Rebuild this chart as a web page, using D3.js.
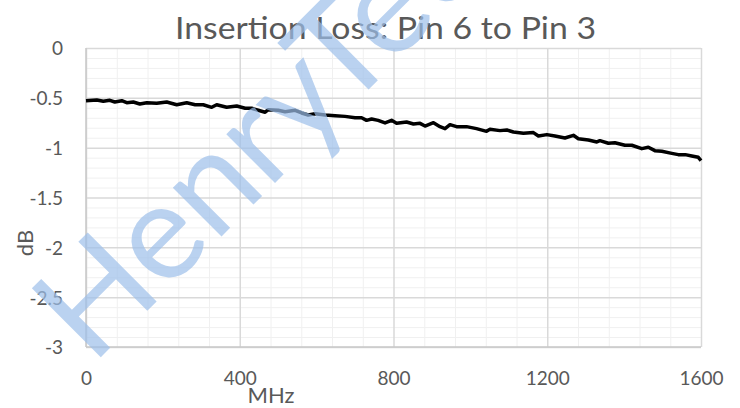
<!DOCTYPE html>
<html><head><meta charset="utf-8">
<script src="https://cdn.jsdelivr.net/npm/d3@7"></script>
<style>body{margin:0;background:#fff} svg{display:block}</style>
</head><body>
<svg id="chart" width="740" height="408"></svg>
<script>
const titleText = "Insertion Loss: Pin 6 to Pin 3";
const xLabel = "MHz";
const yLabel = "dB";
const xTicks = [0, 400, 800, 1200, 1600];
const yTicks = [0, -0.5, -1, -1.5, -2, -2.5, -3];
const xMinorStep = 80;
const yMinorStep = 0.1;
const watermarkText = "HenryTech";

const freqMHz = [0,28,45,62,75,93,106,123,140,158,184,210,236,262,284,305,327,340,366,392,
  414,431,448,466,474,500,518,544,561,578,596,622,648,674,700,717,730,743,760,778,795,
  808,834,852,869,882,904,921,934,947,964,990,1016,1042,1051,1077,1095,1112,1138,1164,1177,1199,
  1220,1246,1268,1281,1307,1329,1337,1359,1376,1402,1420,1446,1463,1480,1498,1524,1541,1559,1576,1593,1600];
const lossDb = [-0.53,-0.522,-0.535,-0.525,-0.542,-0.529,-0.549,-0.542,-0.562,-0.549,-0.555,-0.542,-0.569,-0.549,-0.569,-0.569,-0.595,-0.569,-0.595,-0.582,
  -0.605,-0.605,-0.625,-0.645,-0.619,-0.625,-0.639,-0.625,-0.652,-0.672,-0.659,-0.672,-0.679,-0.686,-0.699,-0.699,-0.726,-0.712,-0.726,-0.752,-0.726,
  -0.756,-0.742,-0.762,-0.756,-0.783,-0.749,-0.789,-0.809,-0.769,-0.789,-0.789,-0.809,-0.836,-0.816,-0.829,-0.823,-0.843,-0.856,-0.849,-0.883,-0.869,
  -0.883,-0.903,-0.876,-0.910,-0.923,-0.943,-0.930,-0.956,-0.950,-0.976,-0.976,-1.010,-0.996,-1.030,-1.036,-1.057,-1.070,-1.070,-1.084,-1.097,-1.13];

const W = 740, H = 408;
const margin = {left: 86, right: 39, top: 48, bottom: 61};
const FONT = "Lato, 'Open Sans', sans-serif";
const svg = d3.select("#chart");
svg.append("rect").attr("width", W).attr("height", H).attr("fill", "#fff");

const x = d3.scaleLinear().domain([0, 1600]).range([margin.left, W - margin.right]);
const y = d3.scaleLinear().domain([-3, 0]).range([H - margin.bottom, margin.top]);
const pw = W - margin.left - margin.right, ph = H - margin.top - margin.bottom;

// minor grid
const xMinor = d3.range(0, 1600 + 1e-6, xMinorStep).filter(v => !xTicks.includes(v));
const yMinor = d3.range(-3, 1e-6, yMinorStep).map(v => +v.toFixed(2)).filter(v => !yTicks.includes(v));
svg.append("g").attr("transform", `translate(0,${H - margin.bottom})`)
  .call(d3.axisBottom(x).tickValues(xMinor).tickSize(-ph).tickFormat(""))
  .call(g => g.select(".domain").remove())
  .call(g => g.selectAll("line").attr("stroke", "#f0f0f0").attr("stroke-width", 1));
svg.append("g").attr("transform", `translate(${margin.left},0)`)
  .call(d3.axisLeft(y).tickValues(yMinor).tickSize(-pw).tickFormat(""))
  .call(g => g.select(".domain").remove())
  .call(g => g.selectAll("line").attr("stroke", "#f0f0f0").attr("stroke-width", 1));
// major grid
svg.append("g").attr("transform", `translate(0,${H - margin.bottom})`)
  .call(d3.axisBottom(x).tickValues(xTicks).tickSize(-ph).tickFormat(""))
  .call(g => g.select(".domain").remove())
  .call(g => g.selectAll("line").attr("stroke", "#d9d9d9").attr("stroke-width", 1.5));
svg.append("g").attr("transform", `translate(${margin.left},0)`)
  .call(d3.axisLeft(y).tickValues(yTicks).tickSize(-pw).tickFormat(""))
  .call(g => g.select(".domain").remove())
  .call(g => g.selectAll("line").attr("stroke", "#d9d9d9").attr("stroke-width", 1.5));
// axis lines
svg.append("line").attr("x1", x(0)).attr("x2", x(0)).attr("y1", y(0)).attr("y2", y(-3))
  .attr("stroke", "#c8c8c8").attr("stroke-width", 1.5);
svg.append("line").attr("x1", x(0)).attr("x2", x(1600)).attr("y1", y(-3)).attr("y2", y(-3))
  .attr("stroke", "#c8c8c8").attr("stroke-width", 1.5);

// tick labels
svg.append("g").attr("transform", `translate(${margin.left - 23},0)`)
  .call(d3.axisLeft(y).tickValues(yTicks).tickSize(0).tickPadding(0).tickFormat(d => String(d)))
  .call(g => g.select(".domain").remove())
  .call(g => g.selectAll("text").attr("fill", "#595959").attr("font-size", 19).attr("font-family", FONT).attr("dy", "0.36em"));
svg.append("g").attr("transform", `translate(0,${H - margin.bottom + 24})`)
  .call(d3.axisBottom(x).tickValues(xTicks).tickSize(0).tickPadding(0).tickFormat(d => String(d)))
  .call(g => g.select(".domain").remove())
  .call(g => g.selectAll("text").attr("fill", "#595959").attr("font-size", 19).attr("font-family", FONT).attr("dy", "0.71em"));

// axis titles
svg.append("text").attr("x", 271).attr("y", 403).attr("text-anchor", "middle")
  .attr("fill", "#595959").attr("font-size", 22).attr("font-family", FONT).text(xLabel);
svg.append("text").attr("transform", "translate(33,243) rotate(-90)").attr("text-anchor", "middle")
  .attr("fill", "#595959").attr("font-size", 22).attr("font-family", FONT).text(yLabel);

// title
svg.append("text").attr("x", 385.5).attr("y", 38.5).attr("text-anchor", "middle")
  .attr("fill", "#595959").attr("font-size", 30).attr("font-family", FONT)
  .attr("textLength", 421).attr("lengthAdjust", "spacingAndGlyphs").text(titleText);

// line
const line = d3.line().x((d, i) => x(freqMHz[i])).y(d => y(d));
svg.append("path").datum(lossDb).attr("d", line).attr("fill", "none")
  .attr("stroke", "#000").attr("stroke-width", 3.5).attr("stroke-linejoin", "round");

// watermark
svg.append("text").attr("transform", "translate(92,366) rotate(-45)")
  .attr("fill", "#9dbfe9").attr("fill-opacity", 0.7)
  .attr("font-size", 136).attr("font-weight", 400).attr("font-family", FONT).text(watermarkText);
</script>
</body></html>
